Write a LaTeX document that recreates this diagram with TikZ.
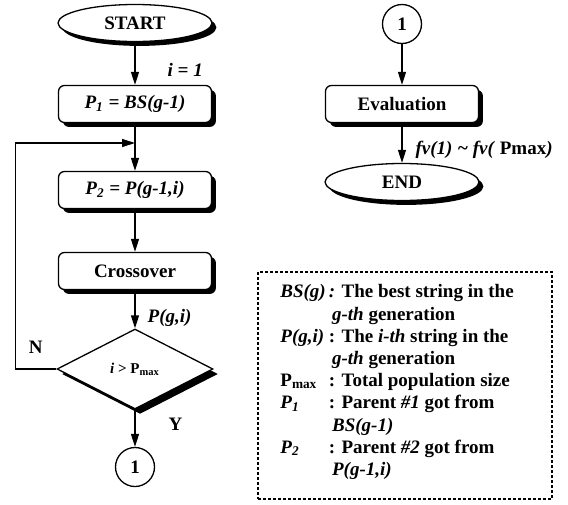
\documentclass[tikz,border=0pt]{standalone}
\usepackage{fontspec}
\setmainfont{Liberation Serif}
\usetikzlibrary{arrows.meta,positioning,shapes.geometric,shadows}

\begin{document}
\begin{tikzpicture}[% pixel grid of the figure, y pointing down
		x=0.5pt,y=-0.5pt,
		every node/.style={
			font=\bfseries\fontsize{9.5}{11.1}\selectfont
		},
		every edge/.style={draw,line width=0.65pt},
		>={Triangle[length=6.5pt,width=4pt]},
		procbox/.style={rectangle,rounded corners=3pt,draw,line width=0.65pt,fill=white,
			minimum width=76.5pt,minimum height=18.5pt,
			drop shadow={shadow xshift=2.2pt,shadow yshift=-2.2pt,opacity=1,fill=black}},
		termbox/.style={ellipse,draw,line width=0.65pt,fill=white,
			minimum width=77pt,minimum height=18.5pt,inner sep=0pt,
			drop shadow={shadow xshift=2.2pt,shadow yshift=-2.2pt,opacity=1,fill=black}},
		decbox/.style={diamond,draw,line width=0.65pt,fill=white,
			minimum width=78pt,minimum height=40pt,inner sep=0pt,
			drop shadow={shadow xshift=2.5pt,shadow yshift=-2.5pt,opacity=1,fill=black}},
		connbox/.style={circle,draw,line width=0.65pt,minimum size=19.5pt,inner sep=0pt},
		lbl/.style={anchor=west,inner sep=0pt}
	]
	\useasboundingbox (0,0) rectangle (568,504);
	% left column
	\node[termbox](Start) at (135,23) {START};
	\node[procbox](P1) at (135,104) {\textit{P\textsubscript{1} = BS(g-1)}};
	\node[procbox](P2) at (135,190) {\textit{P\textsubscript{2} = P(g-1,i)}};
	\node[procbox](Cross) at (135,271) {Crossover};
	\node[decbox](Dec) at (135,369) {\fontsize{7.5}{9}\selectfont\textit{i} > P\textsubscript{max}};
	\node[connbox](C1) at (135,467) {1};
	\coordinate (Loop) at (135,143);
	% right column
	\node[connbox](C2) at (402,24) {1};
	\node[procbox](Eval) at (402,104) {Evaluation};
	\node[termbox](End) at (402,182) {END};
	% legend
	\node[draw,dash pattern=on 1.5pt off 1pt,line width=0.6pt,
		minimum width=147pt,minimum height=113.5pt](Legend) at (405,385.5) {};
	\node[anchor=north west,inner sep=0pt](LegText) at (280,282) {%
		\begin{tabular}{@{}l@{\,}l@{}}
			\textit{BS(g)} & \textit{:} The best string in the \\
			 & \,\textit{g-th} generation \\
			\textit{P(g,i)} & : The \textit{i-th} string in the \\
			 & \,\textit{g-th} generation \\
			P\textsubscript{max} & : Total population size \\
			\textit{P\textsubscript{1}} & : Parent \textit{\#1} got from \\
			 & \,\textit{BS(g-1)} \\
			\textit{P\textsubscript{2}} & : Parent \textit{\#2} got from \\
			 & \,\textit{P(g-1,i)}
		\end{tabular}};
	\path[->]
	(Start)edge node[lbl,pos=.65,xshift=16pt] {\textit{i = 1}} (P1)
	(P1)edge (P2)
	(P2)edge (Cross)
	(Cross)edge node[lbl,pos=.72,xshift=6pt] {\textit{P(g,i)}} (Dec)
	(Dec)edge node[lbl,pos=.38,xshift=16.5pt] {Y} (C1)
	(C2)edge (Eval)
	(Eval)edge node[lbl,pos=.68,xshift=6.5pt] {\textit{fv(1) \textasciitilde{} fv(} Pmax\textit{)}} (End)
	;
	\draw[->,line width=0.65pt] (Dec.west) -- node[above=4pt] {N} ++(-41,0) |- (Loop);
\end{tikzpicture}
\end{document}
